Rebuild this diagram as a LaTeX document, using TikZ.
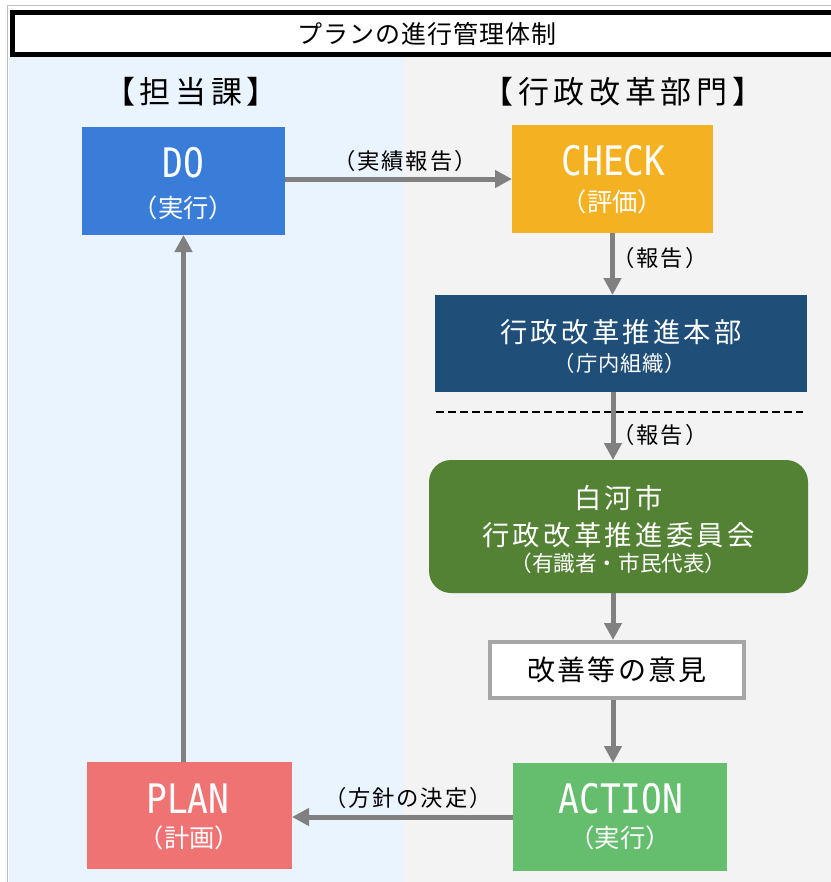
\documentclass[tikz,border=0pt]{standalone}
\usepackage{fontspec}
\usepackage{graphicx}
\setmainfont{Noto Sans CJK JP}
\newfontfamily\jp{Noto Sans CJK JP}
\newfontfamily\jpls[LetterSpace=12]{Noto Sans CJK JP}
\newfontfamily\jplm[LetterSpace=8]{Noto Sans CJK JP}
\newfontfamily\jpsm[LetterSpace=4]{Noto Sans CJK JP}
\newfontfamily\hdrfont[LetterSpace=15]{Noto Sans CJK JP}
\newfontfamily\latmono{DejaVu Sans Mono}
\usetikzlibrary{arrows.meta}
\newcommand\fsz[1]{\fontsize{#1}{#1}\selectfont}
\newcommand\bigeng[1]{\scalebox{0.85}[1]{\latmono\fsz{30.5pt}#1}}
\definecolor{bgblue}{HTML}{EAF4FE}
\definecolor{bggray}{HTML}{F3F3F3}
\definecolor{frameg}{HTML}{BFBFBF}
\definecolor{doblue}{HTML}{3A7DD9}
\definecolor{checky}{HTML}{F4B223}
\definecolor{hqblue}{HTML}{1F4E79}
\definecolor{commg}{HTML}{548235}
\definecolor{actg}{HTML}{64BE6D}
\definecolor{planr}{HTML}{EF7373}
\definecolor{impg}{HTML}{A6A6A6}
\definecolor{arrg}{HTML}{808080}
\begin{document}
\begin{tikzpicture}[x=0.75pt,y=-0.75pt,
  cbox/.style={rectangle, inner sep=0pt, outer sep=0pt, draw=none},
  wtxt/.style={inner sep=0pt, text=white},
  lbl/.style={inner sep=0pt, text=black, font=\jplm\fsz{16.75pt}},
  hdr/.style={inner sep=0pt, text=black, font=\hdrfont\fsz{23.25pt}},
  arr/.style={draw=arrg, line width=3.75pt, -{Triangle[length=12.75pt,width=12.75pt]}},
  titlebox/.style={rectangle, draw=black, fill=white, line width=3.75pt, inner sep=0pt,
     minimum width=621.75pt, minimum height=31.5pt, font=\jpsm\fsz{18.75pt}}
]
\clip (0,0) rectangle (831,882);
\fill[white] (0,0) rectangle (831,882);
\fill[bgblue] (9,57) rectangle (403,882);
\fill[bggray] (403,57) rectangle (831,882);
\draw[frameg, line width=1.1pt] (7.5,882) -- (7.5,5.5) -- (831,5.5);

\node[titlebox] (title) at (427,33.5) {プランの進行管理体制};

\node[hdr] (h1) at (191,92) {【担当課】};
\node[hdr] (h2) at (623,92) {【行政改革部門】};

% boxes
\node[cbox, fill=doblue, minimum width=152.25pt, minimum height=81pt] (do) at (183.5,181) {};
\node[cbox, fill=checky, minimum width=150.75pt, minimum height=81pt] (check) at (612.5,179) {};
\node[cbox, fill=hqblue, minimum width=279pt, minimum height=72.75pt] (hq) at (621,343.5) {};
\node[cbox, fill=commg, rounded corners=16.5pt, minimum width=284.25pt, minimum height=99.75pt] (comm) at (618.5,526.5) {};
\node[rectangle, draw=impg, fill=white, line width=3pt, inner sep=0pt, minimum width=190.5pt, minimum height=42pt,
  font=\jplm\fsz{21pt}] (imp) at (617,670) {改善等の意見};
\node[cbox, fill=actg, minimum width=160.5pt, minimum height=81pt] (action) at (620,817) {};
\node[cbox, fill=planr, minimum width=153.75pt, minimum height=80.25pt] (plan) at (189.5,815.5) {};

% texts in boxes
\node[wtxt] (do-a) at (183.5,163) {\bigeng{DO}};
\node[wtxt, font=\jp\fsz{19pt}] (do-b) at (183.5,208) {（実行）};
\node[wtxt] (check-a) at (613.5,161) {\bigeng{CHECK}};
\node[wtxt, font=\jp\fsz{19pt}] (check-b) at (612.5,202) {（評価）};
\node[wtxt, font=\jpls\fsz{20.5pt}] (hq-a) at (621,332) {行政改革推進本部};
\node[wtxt, font=\jpsm\fsz{16pt}] (hq-b) at (620,363) {（庁内組織）};
\node[wtxt, font=\jpls\fsz{20.5pt}] (comm-a) at (618.5,498) {白河市};
\node[wtxt, font=\jpls\fsz{20.5pt}] (comm-b) at (618.5,535) {行政改革推進委員会};
\node[wtxt, font=\jp\fsz{16.2pt}] (comm-c) at (618.5,563) {（有識者・市民代表）};
\node[wtxt] (action-a) at (621,799) {\bigeng{ACTION}};
\node[wtxt, font=\jp\fsz{19pt}] (action-b) at (620,838) {（実行）};
\node[wtxt] (plan-a) at (188,799) {\bigeng{PLAN}};
\node[wtxt, font=\jp\fsz{19pt}] (plan-b) at (189.5,838) {（計画）};

% dashed separator
\coordinate (dl) at (436,412);
\coordinate (dr) at (803,412);
\draw[black, line width=1.1pt, dash pattern=on 6pt off 3pt] (dl) -- (dr);

% arrows
\coordinate (ax) at (613,0);
\draw[arr] (do.east |- check.west) -- (check.west);
\draw[arr] (check.south) -- (check.south |- hq.north);
\draw[arr] (hq.south -| ax) -- (comm.north -| ax);
\draw[arr] (comm.south -| ax) -- (imp.north -| ax);
\draw[arr] (imp.south -| ax) -- (action.north -| ax);
\draw[arr] (action.west) -- (plan.east |- action.west);
\draw[arr] (plan.north -| do.south) -- (do.south);

% arrow labels
\node[lbl] (l1) at (405,161) {（実績報告）};
\node[lbl] (l2) at (660,258) {（報告）};
\node[lbl] (l3) at (660,435) {（報告）};
\node[lbl] (l4) at (408,798) {（方針の決定）};
\end{tikzpicture}
\end{document}
